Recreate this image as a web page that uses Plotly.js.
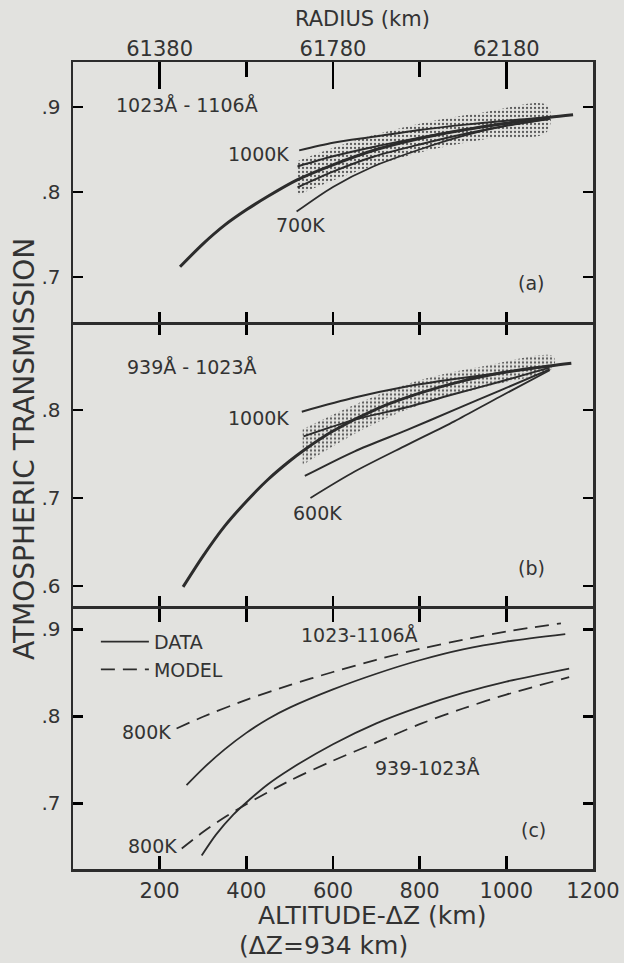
<!DOCTYPE html>
<html><head><meta charset="utf-8">
<script src="https://cdn.plot.ly/plotly-3.0.1.min.js"></script>
<style>html,body{margin:0;padding:0;background:#e2e2df;} #chart{width:624px;height:963px;}</style>
</head><body><div id="chart"></div>
<script>
// ---------- Panel (a) 1023-1106 Å ----------
const aMainAlt = [247,300,350,400,450,516,600,700,800,900,1000,1100,1154];
const aMainVal = [0.712,0.739,0.761,0.779,0.795,0.814,0.832,0.850,0.863,0.873,0.881,0.888,0.891];
const a1000Alt = [522,600,693,800,900,1000,1100];
const a1000Val = [0.849,0.858,0.865,0.873,0.879,0.884,0.888];
const aUpAlt = [518,600,693,800,900,1000,1100];
const aUpVal = [0.830,0.842,0.853,0.864,0.873,0.881,0.887];
const aLowAlt = [518,600,693,800,900,1000,1100];
const aLowVal = [0.8055,0.824,0.8415,0.856,0.868,0.878,0.886];
const a700Alt = [516,600,693,800,900,1000,1100];
const a700Val = [0.777,0.806,0.830,0.850,0.866,0.878,0.886];
const aBandAlt = [516,660,805,950,1094];
const aBandTop = [0.836,0.862,0.881,0.894,0.902];
const aBandBot = [0.796,0.825,0.847,0.862,0.871];

// ---------- Panel (b) 939-1023 Å ----------
const bMainAlt = [254,300,350,400,450,500,532,600,700,800,900,1000,1100,1150];
const bMainVal = [0.599,0.634,0.668,0.696,0.721,0.742,0.754,0.776,0.801,0.819,0.833,0.843,0.850,0.853];
const b1000Alt = [528,650,770,880,985,1100];
const b1000Val = [0.798,0.814,0.8265,0.835,0.842,0.850];
const bUpAlt = [532,650,770,880,985,1100];
const bUpVal = [0.770,0.789,0.803,0.818,0.832,0.848];
const bLowAlt = [535,650,770,880,985,1100];
const bLowVal = [0.725,0.753,0.777,0.800,0.822,0.846];
const b600Alt = [548,650,770,880,985,1100];
const b600Val = [0.700,0.730,0.760,0.787,0.815,0.845];
const bBandAlt = [530,670,800,950,1108];
const bBandTop = [0.778,0.810,0.834,0.850,0.861];
const bBandBot = [0.7375,0.778,0.806,0.826,0.848];

// ---------- Panel (c) data vs model ----------
const cDataHiAlt = [262,300,350,400,450,500,600,700,800,900,1000,1136];
const cDataHiVal = [0.721,0.740,0.762,0.781,0.797,0.810,0.831,0.849,0.8645,0.877,0.886,0.8946];
const cModelHiAlt = [239,300,400,500,600,700,800,900,1000,1126];
const cModelHiVal = [0.786,0.7995,0.819,0.836,0.851,0.865,0.8775,0.888,0.8975,0.907];
const cDataLoAlt = [297,330,370,400,450,500,600,700,800,900,1000,1145];
const cDataLoVal = [0.640,0.664,0.687,0.701,0.722,0.739,0.768,0.792,0.811,0.827,0.840,0.855];
const cModelLoAlt = [251,300,350,400,500,600,700,800,900,1000,1145];
const cModelLoVal = [0.648,0.667,0.684,0.699,0.726,0.749,0.770,0.791,0.809,0.825,0.845];

// ---------- Axes ----------
const altRange = [0, 1200];
const altTicks = [200, 400, 600, 800, 1000, 1200];
const altTickText = ['200', '400', '600', '800', '1000', '1200'];
const radiusOffset = 61180;
const radiusTicks = [61380, 61780, 62180];
const radiusMinor = [61580, 61980];
const yTicksA = [0.7, 0.8, 0.9], yTextA = ['.7', '.8', '.9'];
const yTicksB = [0.6, 0.7, 0.8], yTextB = ['.6', '.7', '.8'];
const yTicksC = [0.7, 0.8, 0.9], yTextC = ['.7', '.8', '.9'];

const INK = '#2c2c2c';
const TICK = '#000000';
const FONT = 'DejaVu Sans';

function line(x, y, xa, ya, width, extra) {
  return Object.assign({
    type: 'scatter', mode: 'lines', x: x, y: y, xaxis: xa, yaxis: ya,
    line: {color: INK, width: width, shape: 'spline', smoothing: 0.8},
    showlegend: false, hoverinfo: 'skip'
  }, extra || {});
}
function band(alt, top, bot, xa, ya) {
  return {
    type: 'scatter', mode: 'lines', xaxis: xa, yaxis: ya,
    x: alt.concat(alt.slice().reverse()),
    y: top.concat(bot.slice().reverse()),
    fill: 'toself', line: {width: 0, color: 'rgba(0,0,0,0)', shape: 'spline'},
    fillcolor: 'rgba(0,0,0,0)',
    fillpattern: {shape: '.', size: 4, solidity: 0.25, fgcolor: '#5a5a5a', bgcolor: 'rgba(0,0,0,0)'},
    showlegend: false, hoverinfo: 'skip'
  };
}

const traces = [
  band(aBandAlt, aBandTop, aBandBot, 'x', 'y'),
  line(aMainAlt, aMainVal, 'x', 'y', 3),
  line(a1000Alt, a1000Val, 'x', 'y', 2),
  line(aUpAlt, aUpVal, 'x', 'y', 2),
  line(aLowAlt, aLowVal, 'x', 'y', 2),
  line(a700Alt, a700Val, 'x', 'y', 1.8),

  band(bBandAlt, bBandTop, bBandBot, 'x2', 'y2'),
  line(bMainAlt, bMainVal, 'x2', 'y2', 3),
  line(b1000Alt, b1000Val, 'x2', 'y2', 2),
  line(bUpAlt, bUpVal, 'x2', 'y2', 2),
  line(bLowAlt, bLowVal, 'x2', 'y2', 2),
  line(b600Alt, b600Val, 'x2', 'y2', 1.8),

  line(cDataHiAlt, cDataHiVal, 'x3', 'y3', 1.8, {name: 'DATA', showlegend: true}),
  line(cModelHiAlt, cModelHiVal, 'x3', 'y3', 1.8, {name: 'MODEL', showlegend: true}),
  line(cDataLoAlt, cDataLoVal, 'x3', 'y3', 1.8),
  line(cModelLoAlt, cModelLoVal, 'x3', 'y3', 1.8),

  // carrier for the top radius axis (draws nothing)
  {type: 'scatter', mode: 'lines', x: radiusTicks, y: radiusTicks.map(() => null),
   xaxis: 'x4', yaxis: 'y', showlegend: false, hoverinfo: 'skip'}
];
traces[13].line.dash = '14px,8px';
traces[15].line.dash = '14px,8px';

const axBase = {
  range: altRange, showgrid: false, zeroline: false, showline: true, linecolor: INK, linewidth: 2.5,
  ticks: 'inside', ticklen: 10, tickwidth: 2.4, tickcolor: TICK, mirror: 'allticks',
  tickvals: altTicks, ticktext: altTickText, tickfont: {family: FONT, size: 21, color: '#333'}
};
const yBase = {
  showgrid: false, zeroline: false, showline: true, linecolor: INK, linewidth: 2.5,
  ticks: 'inside', ticklen: 10, tickwidth: 2.4, tickcolor: TICK, mirror: 'allticks',
  tickfont: {family: FONT, size: 20, color: '#333'}, ticklabelstandoff: 6
};

const ann = (text, x, y, xa, ya, opts) => Object.assign({
  text: text, x: x, y: y, xref: xa, yref: ya, showarrow: false,
  xanchor: 'center', yanchor: 'middle',
  font: {family: FONT, size: 19, color: '#333'}
}, opts || {});

const layout = {
  width: 624, height: 963,
  margin: {l: 73, r: 31, t: 62, b: 94},
  paper_bgcolor: '#e2e2df', plot_bgcolor: '#e2e2df',
  showlegend: true,
  legend: {x: 0.044, y: 0.305, xanchor: 'left', yanchor: 'top', bgcolor: 'rgba(0,0,0,0)',
           font: {family: FONT, size: 19, color: '#333'}, tracegroupgap: 0, itemwidth: 48},
  xaxis: Object.assign({}, axBase, {anchor: 'y', showticklabels: false}),
  xaxis2: Object.assign({}, axBase, {anchor: 'y2', showticklabels: false}),
  xaxis3: Object.assign({}, axBase, {anchor: 'y3', showticklabels: true, ticklabelstandoff: 1, ticklen: 13}),
  xaxis4: {
    overlaying: 'x', side: 'top', anchor: 'y',
    range: [altRange[0] + radiusOffset, altRange[1] + radiusOffset],
    showgrid: false, zeroline: false, showline: false,
    tickvals: radiusTicks, ticktext: radiusTicks.map(String),
    ticks: 'inside', ticklen: 27, tickwidth: 2.4, tickcolor: TICK,
    minor: {tickvals: radiusMinor, ticks: 'inside', ticklen: 15, tickwidth: 2.4, tickcolor: TICK},
    tickfont: {family: FONT, size: 21, color: '#333'}, ticklabelstandoff: 1
  },
  yaxis: Object.assign({}, yBase, {domain: [0.6778, 1], range: [0.647, 0.953], anchor: 'x', mirror: 'ticks', tickvals: yTicksA, ticktext: yTextA}),
  yaxis2: Object.assign({}, yBase, {domain: [0.3259, 0.6747], range: [0.5773, 0.897], anchor: 'x2', tickvals: yTicksB, ticktext: yTextB}),
  yaxis3: Object.assign({}, yBase, {domain: [0, 0.3228], range: [0.6245, 0.924], anchor: 'x3', tickvals: yTicksC, ticktext: yTextC}),
  annotations: [
    ann('RADIUS (km)', 0.556, 1.0533, 'paper', 'paper', {font: {family: FONT, size: 21, color: '#333'}}),
    ann('ATMOSPHERIC TRANSMISSION', -0.0942, 0.5204, 'paper', 'paper', {textangle: -90, font: {family: FONT, size: 28, color: '#333'}}),
    ann('ALTITUDE-ΔZ (km)', 0.575, -0.0582, 'paper', 'paper', {font: {family: FONT, size: 25, color: '#333'}}),
    ann('(ΔZ=934 km)', 0.481, -0.0942, 'paper', 'paper', {font: {family: FONT, size: 25, color: '#333'}}),

    ann('1023Å - 1106Å', 263, 0.902, 'x', 'y'),
    ann('1000K', 502, 0.845, 'x', 'y', {xanchor: 'right'}),
    ann('700K', 526, 0.761, 'x', 'y'),
    ann('(a)', 1057, 0.693, 'x', 'y'),

    ann('939Å - 1023Å', 275, 0.849, 'x2', 'y2'),
    ann('1000K', 502, 0.791, 'x2', 'y2', {xanchor: 'right'}),
    ann('600K', 565, 0.683, 'x2', 'y2'),
    ann('(b)', 1057, 0.620, 'x2', 'y2'),

    ann('1023-1106Å', 660, 0.8934, 'x3', 'y3'),
    ann('800K', 231, 0.782, 'x3', 'y3', {xanchor: 'right'}),
    ann('939-1023Å', 817, 0.7406, 'x3', 'y3'),
    ann('800K', 245, 0.651, 'x3', 'y3', {xanchor: 'right'}),
    ann('(c)', 1062, 0.669, 'x3', 'y3')
  ]
};

Plotly.newPlot('chart', traces, layout, {staticPlot: true});
</script>
</body></html>
